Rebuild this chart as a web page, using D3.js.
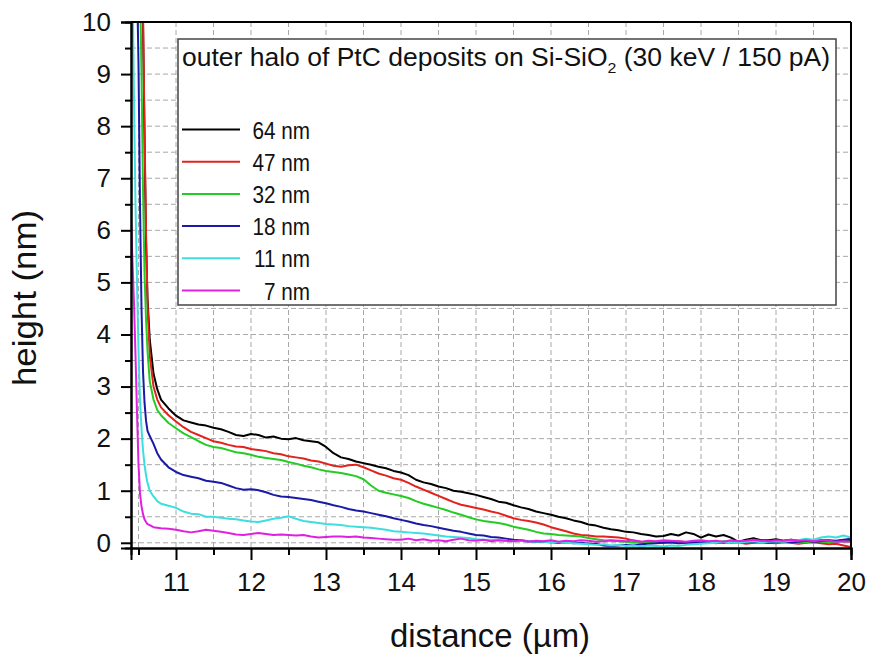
<!DOCTYPE html>
<html>
<head>
<meta charset="utf-8">
<script src="https://cdn.jsdelivr.net/npm/d3@7"></script>
<style>
  body { margin: 0; background: #fff; }
  svg { display: block; font-family: "Liberation Sans", Arial, sans-serif; }
</style>
</head>
<body>
<script>
// distance (µm) sample positions, shared by all series
var distance = [
  10.40,10.42,10.44,10.46,10.48,10.50,10.52,10.54,10.56,10.58,10.60,10.62,10.65,10.70,10.75,10.80,
  10.9,11.0,11.1,11.2,11.3,11.4,11.5,11.6,11.7,11.8,
  11.9,12.0,12.1,12.2,12.3,12.4,12.5,12.6,12.7,12.8,
  12.9,13.0,13.1,13.2,13.3,13.4,13.5,13.6,13.7,13.8,
  13.9,14.0,14.1,14.2,14.3,14.4,14.5,14.6,14.7,14.8,
  14.9,15.0,15.1,15.2,15.3,15.4,15.5,15.6,15.7,15.8,
  15.9,16.0,16.1,16.2,16.3,16.4,16.5,16.6,16.7,16.8,
  16.9,17.0,17.1,17.2,17.3,17.4,17.5,17.6,17.7,17.8,
  17.9,18.0,18.1,18.2,18.3,18.4,18.5,18.6,18.7,18.8,
  18.9,19.0,19.1,19.2,19.3,19.4,19.5,19.6,19.7,19.8,
  19.9,20.0
];

// heights (nm) per deposit thickness; null = off the top of the plot
var h64 = [
  null,null,null,null,null,null,null,11.0,10.0,7.8,5.8,4.7,3.9,3.25,2.95,2.75,
  2.58,2.44,2.35,2.31,2.27,2.25,2.21,2.18,2.13,2.07,
  2.05,2.09,2.07,2.02,2.04,2.0,1.99,2.01,1.97,1.95,
  1.93,1.84,1.72,1.64,1.61,1.56,1.53,1.5,1.46,1.43,
  1.38,1.35,1.3,1.21,1.16,1.13,1.08,1.05,1.0,0.98,
  0.95,0.92,0.88,0.84,0.79,0.77,0.72,0.68,0.65,0.6,
  0.57,0.54,0.5,0.47,0.43,0.4,0.35,0.33,0.29,0.26,
  0.24,0.21,0.2,0.17,0.15,0.12,0.13,0.17,0.14,0.2,
  0.17,0.1,0.16,0.12,0.15,0.1,0.02,0.06,0.09,0.05,
  0.05,0.07,0.04,0.06,0.04,0.03,0.02,0.05,0.04,0.03,
  0.05,0.06
];
var h47 = [
  null,null,null,null,null,null,null,11.0,10.2,8.0,6.0,4.6,3.6,3.0,2.75,2.6,
  2.45,2.33,2.22,2.13,2.07,2.01,1.95,1.92,1.88,1.85,
  1.84,1.8,1.78,1.76,1.72,1.7,1.66,1.64,1.62,1.58,
  1.56,1.52,1.48,1.46,1.49,1.5,1.45,1.39,1.33,1.29,
  1.24,1.21,1.15,1.08,1.02,0.96,0.9,0.84,0.78,0.73,
  0.7,0.67,0.64,0.6,0.57,0.52,0.47,0.44,0.42,0.39,
  0.35,0.3,0.26,0.22,0.18,0.15,0.14,0.12,0.12,0.11,
  0.1,0.08,0.04,0.02,0.01,0.02,0.0,0.01,0.03,0.01,
  0.0,0.02,0.01,-0.01,0.02,0.0,0.01,-0.02,0.0,0.01,
  0.0,-0.01,0.01,0.0,-0.02,0.0,0.01,-0.01,-0.03,-0.02,
  -0.05,-0.08
];
var h32 = [
  null,null,null,null,null,null,10.8,9.0,6.8,5.2,4.3,3.7,3.1,2.75,2.55,2.45,
  2.3,2.2,2.1,2.03,1.95,1.88,1.84,1.82,1.78,1.74,
  1.72,1.69,1.65,1.63,1.61,1.59,1.55,1.52,1.48,1.45,
  1.41,1.38,1.36,1.34,1.31,1.28,1.22,1.1,1.0,0.96,
  0.93,0.9,0.86,0.8,0.75,0.71,0.67,0.63,0.58,0.54,
  0.49,0.45,0.42,0.4,0.38,0.35,0.31,0.28,0.25,0.21,
  0.18,0.17,0.15,0.14,0.13,0.12,0.09,0.07,0.05,0.04,
  0.03,0.02,0.0,0.01,-0.01,0.0,0.02,0.0,-0.01,0.01,
  0.0,0.02,0.01,0.0,0.03,0.01,0.0,0.02,0.01,0.0,
  0.02,0.01,0.03,0.02,0.0,0.01,0.03,0.02,0.01,0.02,
  0.03,0.02
];
var h18 = [
  null,null,null,null,10.8,9.2,6.5,4.5,3.3,2.7,2.35,2.15,2.05,1.9,1.72,1.6,
  1.45,1.36,1.3,1.27,1.24,1.19,1.17,1.15,1.1,1.05,
  1.02,1.03,1.01,0.97,0.92,0.89,0.88,0.86,0.84,0.82,
  0.79,0.76,0.72,0.69,0.65,0.62,0.6,0.57,0.54,0.51,
  0.47,0.44,0.41,0.37,0.34,0.32,0.29,0.26,0.23,0.21,
  0.18,0.15,0.14,0.11,0.1,0.08,0.06,0.05,0.03,0.02,
  0.02,0.01,0.0,0.01,-0.01,0.0,-0.02,-0.02,-0.05,-0.06,
  -0.05,-0.04,-0.05,-0.03,-0.02,-0.01,0.0,0.01,-0.01,0.0,
  0.01,0.0,0.02,0.01,0.0,0.02,0.01,0.03,0.01,0.02,
  0.0,0.02,0.03,0.01,0.02,0.04,0.02,0.03,0.05,0.04,
  0.06,0.08
];
var h11 = [
  null,10.8,8.5,6.5,5.0,3.7,2.74,2.2,1.78,1.5,1.3,1.15,1.0,0.89,0.8,0.75,
  0.71,0.67,0.6,0.56,0.55,0.5,0.5,0.48,0.46,0.45,
  0.43,0.41,0.4,0.43,0.46,0.48,0.51,0.46,0.42,0.4,
  0.38,0.36,0.35,0.34,0.32,0.31,0.3,0.29,0.27,0.25,
  0.22,0.21,0.2,0.19,0.18,0.16,0.14,0.12,0.11,0.1,
  0.09,0.07,0.06,0.06,0.05,0.04,0.03,0.04,0.02,0.03,
  0.02,0.01,0.02,0.0,-0.01,-0.02,-0.03,-0.04,-0.03,-0.05,
  -0.04,-0.06,-0.05,-0.07,-0.05,-0.06,-0.07,-0.05,-0.06,-0.04,
  -0.03,-0.02,-0.01,0.0,0.02,0.01,0.0,0.02,0.03,0.01,
  0.02,0.03,0.02,0.04,0.05,0.08,0.06,0.1,0.12,0.1,
  0.14,0.1
];
var h7 = [
  6.2,5.4,4.6,3.6,2.5,1.5,0.95,0.7,0.55,0.45,0.4,0.36,0.34,0.3,0.29,0.28,
  0.27,0.25,0.22,0.2,0.22,0.25,0.23,0.21,0.19,0.16,
  0.15,0.17,0.19,0.17,0.15,0.16,0.15,0.14,0.15,0.12,
  0.1,0.11,0.12,0.12,0.11,0.12,0.1,0.09,0.08,0.07,
  0.06,0.06,0.08,0.05,0.07,0.04,0.05,0.03,0.06,0.08,
  0.05,0.04,0.06,0.03,0.05,0.04,0.03,0.05,0.02,0.04,
  0.03,0.05,0.02,0.04,0.03,0.05,0.04,0.02,0.03,0.05,
  0.04,0.03,0.05,0.02,0.04,0.03,0.05,0.04,0.03,0.02,
  0.04,0.05,0.03,0.04,0.02,0.05,0.03,0.04,0.06,0.04,
  0.03,0.05,0.04,0.06,0.04,0.05,0.03,0.05,0.04,0.02,
  0.03,0.02
];

var seriesNames = ["64 nm", "47 nm", "32 nm", "18 nm", "11 nm", "7 nm"];
var seriesValues = [h64, h47, h32, h18, h11, h7];
var seriesColors = ["#000000", "#e3221c", "#22cc22", "#1a1aa6", "#3ddede", "#e020e0"];

var xTicks = [11, 12, 13, 14, 15, 16, 17, 18, 19, 20];
var yTicks = [0, 1, 2, 3, 4, 5, 6, 7, 8, 9, 10];

function init() {
    var width = 872;
    var height = 659;
    var left = 131, right = 851, top = 22, bottom = 548;

    var svg = d3.select("body").append("svg")
        .attr("width", width)
        .attr("height", height);

    var x = d3.scaleLinear().domain([10.4, 20]).range([left, right]);
    var y = d3.scaleLinear().domain([-0.1, 10]).range([bottom, top]);

    // minor positions for grid and short ticks
    var xMinor = d3.range(10.5, 20, 0.5);
    var yMinor = d3.range(0, 10, 0.5);

    // dashed grid
    var grid = svg.append("g").attr("stroke", "#a8a8a8").attr("stroke-width", 1)
        .attr("stroke-dasharray", "5,3");
    grid.selectAll(".gx").data(xMinor).enter().append("line")
        .attr("x1", d => x(d)).attr("x2", d => x(d))
        .attr("y1", top).attr("y2", bottom);
    grid.selectAll(".gy").data(yMinor).enter().append("line")
        .attr("x1", left).attr("x2", right)
        .attr("y1", d => y(d)).attr("y2", d => y(d));

    // clip the curves to the plot frame
    svg.append("clipPath").attr("id", "plotclip")
        .append("rect")
        .attr("x", left).attr("y", top)
        .attr("width", right - left).attr("height", bottom - top);

    var line = d3.line()
        .defined(d => d[1] !== null)
        .x(d => x(d[0]))
        .y(d => y(d[1]));

    var curves = svg.append("g").attr("clip-path", "url(#plotclip)");
    seriesValues.forEach(function(vals, i) {
        var pts = distance.map(function(d, j) { return [d, vals[j]]; });
        curves.append("path")
            .datum(pts)
            .attr("fill", "none")
            .attr("stroke", seriesColors[i])
            .attr("stroke-width", 2)
            .attr("stroke-linejoin", "round")
            .attr("d", line);
    });

    // bottom axis
    svg.append("g").attr("transform", "translate(0," + bottom + ")")
        .call(d3.axisBottom(x).tickValues(xTicks).tickSize(12).tickPadding(13)
            .tickFormat(d3.format("d")));
    svg.append("g").attr("transform", "translate(0," + bottom + ")")
        .call(d3.axisBottom(x).tickValues(xMinor.filter(d => d % 1 !== 0))
            .tickSize(7).tickFormat(""));

    // left axis
    svg.append("g").attr("transform", "translate(" + left + ",0)")
        .call(d3.axisLeft(y).tickValues(yTicks).tickSize(10).tickPadding(10)
            .tickFormat(d3.format("d")));
    svg.append("g").attr("transform", "translate(" + left + ",0)")
        .call(d3.axisLeft(y).tickValues(yMinor.filter(d => d % 1 !== 0))
            .tickSize(6).tickFormat(""));

    svg.selectAll(".domain").attr("stroke", "#000").attr("stroke-width", 2);
    svg.selectAll(".tick line").attr("stroke", "#000").attr("stroke-width", 2);
    svg.selectAll(".tick text")
        .attr("font-family", "Liberation Sans, Arial, sans-serif")
        .attr("font-size", 26)
        .attr("fill", "#111");

    // top and right frame
    svg.append("line").attr("x1", left).attr("x2", right).attr("y1", top).attr("y2", top)
        .attr("stroke", "#000").attr("stroke-width", 2);
    svg.append("line").attr("x1", right).attr("x2", right).attr("y1", top).attr("y2", bottom)
        .attr("stroke", "#000").attr("stroke-width", 2);

    // axis titles
    svg.append("text")
        .attr("x", 490).attr("y", 647)
        .attr("text-anchor", "middle")
        .attr("font-size", 33)
        .attr("textLength", 200)
        .attr("lengthAdjust", "spacingAndGlyphs")
        .attr("fill", "#111")
        .text("distance (µm)");
    svg.append("text")
        .attr("transform", "translate(36,298) rotate(-90)")
        .attr("text-anchor", "middle")
        .attr("font-size", 33)
        .attr("textLength", 176)
        .attr("lengthAdjust", "spacingAndGlyphs")
        .attr("fill", "#111")
        .text("height (nm)");

    // legend box
    var legend = svg.append("g");
    legend.append("rect")
        .attr("x", 178).attr("y", 39)
        .attr("width", 658).attr("height", 266)
        .attr("fill", "#fff")
        .attr("stroke", "#444")
        .attr("stroke-width", 1.5);

    var title = legend.append("text")
        .attr("x", 182).attr("y", 66)
        .attr("font-size", 25)
        .attr("textLength", 648)
        .attr("lengthAdjust", "spacingAndGlyphs")
        .attr("fill", "#111");
    title.append("tspan").text("outer halo of PtC deposits on Si-SiO");
    title.append("tspan").attr("font-size", 15).attr("dy", 7).text("2");
    title.append("tspan").attr("dy", -7).text(" (30 keV / 150 pA)");

    seriesNames.forEach(function(name, i) {
        var ly = 129.5 + i * 32.2;
        legend.append("line")
            .attr("x1", 182).attr("x2", 240)
            .attr("y1", ly).attr("y2", ly)
            .attr("stroke", seriesColors[i])
            .attr("stroke-width", 2);
        var t = legend.append("text")
            .attr("x", 310).attr("y", ly + 9)
            .attr("text-anchor", "end")
            .attr("font-size", 23)
            .attr("fill", "#111")
            .text(name);
        // the original labels are slightly condensed
        var w = t.node().getComputedTextLength();
        t.attr("textLength", w * 0.9).attr("lengthAdjust", "spacingAndGlyphs");
    });
}

window.onload = init;
</script>
</body>
</html>
